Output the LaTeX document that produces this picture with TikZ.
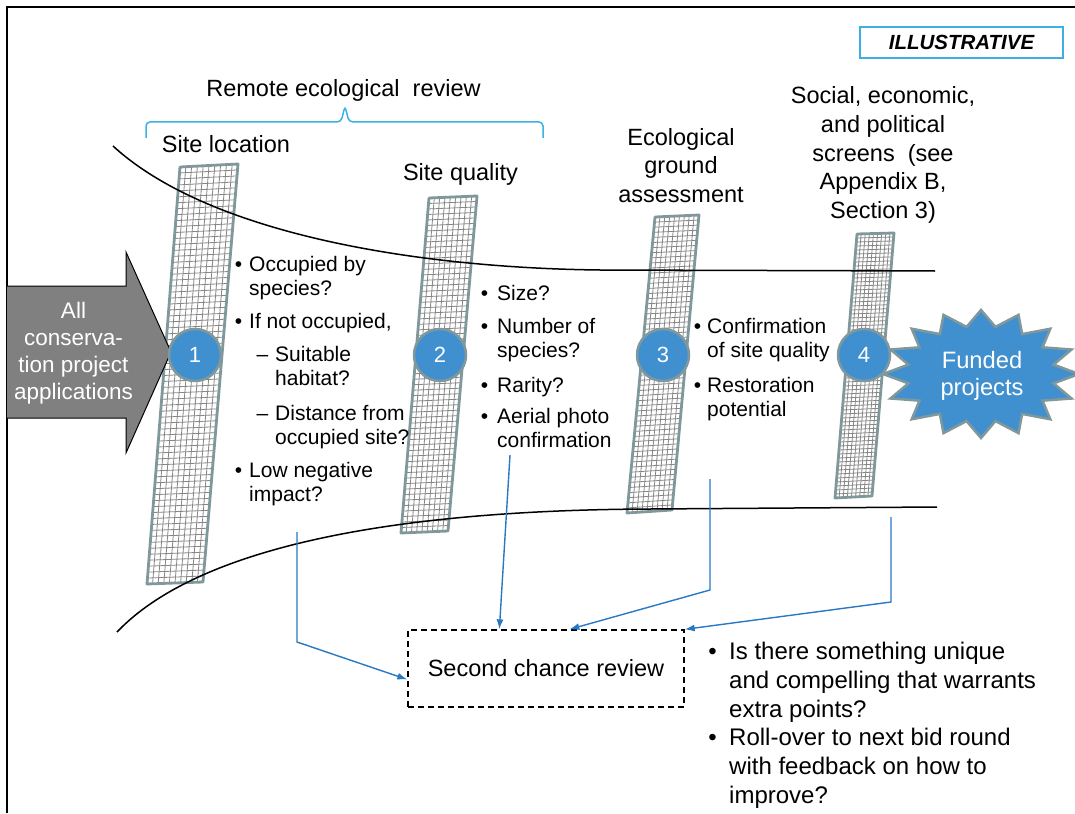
\documentclass[tikz,border=0pt]{standalone}
\usepackage{fontspec}
\setmainfont{Liberation Sans}
\usetikzlibrary{arrows.meta,calc}

\definecolor{stageblue}{RGB}{64,144,208}
\definecolor{rimgray}{RGB}{128,152,156}
\definecolor{gridgray}{RGB}{135,135,135}
\definecolor{linkblue}{RGB}{40,120,196}
\definecolor{bracecyan}{RGB}{60,176,228}
\definecolor{arrowgray}{RGB}{128,128,128}

% multi-line nodes sit on the baseline of their last line
\tikzstyle{heading}=[
	inner sep=0pt,
	align=center,
	anchor=base,
	font=\fontsize{23.5}{28.5}\selectfont
]
\tikzstyle{question}=[
	inner sep=0pt,
	align=left,
	anchor=base west,
	font=\fontsize{21}{24.5}\selectfont
]
\tikzstyle{stage}=[
	circle,
	line width=2.5pt,
	draw=rimgray,
	fill=stageblue,
	text=white,
	minimum size=52pt,
	inner sep=0pt,
	font=\fontsize{22}{26}\selectfont
]
\tikzstyle{fallback}=[
	-{Latex[length=10pt,width=7pt]},
	line width=1.4pt,
	draw=linkblue
]
\tikzstyle{recheck}=[
	rectangle,
	draw,
	line width=1.3pt,
	dash pattern=on 6pt off 4pt,
	minimum width=276pt,
	minimum height=77pt,
	font=\fontsize{23.5}{28}\selectfont
]
\tikzstyle{funnel}=[line width=1.5pt]
\tikzstyle{gridline}=[draw=gridgray, line width=0.8pt]
\tikzstyle{barrim}=[draw=rimgray, line width=2.8pt, line join=round]

\newcommand{\dotitem}[1][7pt]{\llap{\textbullet\hspace{#1}}}
\newcommand{\dashitem}{\llap{\textendash\hspace{7pt}}}

% one screen: corners top left, top right, bottom right, bottom left, columns, rows
\newcommand{\gridbar}[7]{
	\coordinate (#1-tl) at #2;
	\coordinate (#1-tr) at #3;
	\coordinate (#1-br) at #4;
	\coordinate (#1-bl) at #5;
	\fill[white] (#1-tl) -- (#1-tr) -- (#1-br) -- (#1-bl) -- cycle;
	\foreach \i in {1,...,#6}
		\draw[gridline] ($(#1-tl)!\i/#6!(#1-tr)$) -- ($(#1-bl)!\i/#6!(#1-br)$);
	\foreach \j in {1,...,#7}
		\draw[gridline] ($(#1-tl)!\j/#7!(#1-bl)$) -- ($(#1-tr)!\j/#7!(#1-br)$);
	\draw[barrim] (#1-tl) -- (#1-tr) -- (#1-br) -- (#1-bl) -- cycle;
}

\begin{document}
\begin{tikzpicture}[x=1pt,y=-1pt]
\useasboundingbox (0,0) rectangle (1075,813);
\draw[line width=2.5pt] (1075,7) -- (7,7) -- (7,813);

\node[draw=bracecyan, line width=1.5pt, minimum width=203pt, minimum height=31pt,
	font=\fontsize{20.5}{24}\selectfont\bfseries\itshape] (tag) at (961.5,42.5) {ILLUSTRATIVE};

% remote review brace
\draw[draw=bracecyan, line width=1.5pt, rounded corners=4pt]
	(146,138) -- (146,122) -- (341,122) -- (345,106) -- (349,122) -- (543,122) -- (543,138);
\node[heading] (remote) at (343.5,97) {Remote ecological\ \ review};

% the four screens
\gridbar{bar1}{(180,167)}{(238,164)}{(203,582)}{(147,584)}{10}{70}
\gridbar{bar2}{(429,198)}{(477,196)}{(448,531)}{(401,533)}{9}{61}
\gridbar{bar3}{(655,217)}{(699,215)}{(672,510)}{(627,513)}{9}{58}
\gridbar{bar4}{(857,234)}{(894,233)}{(872,496)}{(835,498)}{9}{66}

% applications arrow
\draw[fill=arrowgray, line width=1pt] (7,286) -- (126,286) -- (126,252) -- (171,352)
	-- (126,453) -- (126,418) -- (7,418);
\node[heading, text=white, font=\fontsize{22.5}{26.7}\selectfont] (apps) at (73.5,399)
	{All\\conserva-\\tion project\\applications};

% funnel
\draw[funnel] (113,146) .. controls (210,235) and (420,268) .. (600,270) -- (935,271);
\draw[funnel] (117,632) .. controls (200,545) and (400,510) .. (650,509) -- (937,507);

% funded projects
\draw[fill=stageblue, draw=rimgray, line width=2.5pt, line join=miter] (981,310)
	\foreach \k in {1,...,31} {
		-- ({981+(98-24*mod(\k,2))*cos(90+11.25*\k)}, {374-(64-16*mod(\k,2))*sin(90+11.25*\k)})
	} -- cycle;
\node[heading, text=white, font=\fontsize{23.7}{27}\selectfont] (funded) at (982,395) {Funded\\projects};

\node[stage] (s1) at (195,355) {1};
\node[stage] (s2) at (440,355) {2};
\node[stage] (s3) at (663,355) {3};
\node[stage] (s4) at (864,355) {4};

\node[heading] (loc) at (226,153) {Site location};
\node[heading] (qual) at (460.5,180) {Site quality};
\node[heading] (ground) at (681,202) {Ecological\\ground\\assessment};
\node[heading] (social) at (883,218) {Social, economic,\\and political\\screens\ \ (see\\Appendix B,\\Section 3)};

\node[question] (loc1) at (249,295.5) {\dotitem Occupied by\\species?};
\node[question] (loc2) at (249,328) {\dotitem If not occupied,};
\node[question] (loc3) at (275,385.5) {\dashitem Suitable\\habitat?};
\node[question] (loc4) at (275,444.5) {\dashitem Distance from\\occupied site?};
\node[question] (loc5) at (249,501.5) {\dotitem Low negative\\impact?};

\node[question] (qual1) at (497,300) {\dotitem[9pt]Size?};
\node[question] (qual2) at (497,357.5) {\dotitem[9pt]Number of\\species?};
\node[question] (qual3) at (497,392) {\dotitem[9pt]Rarity?};
\node[question] (qual4) at (497,447.5) {\dotitem[9pt]Aerial photo\\confirmation};

\node[question] (ground1) at (707,357.5) {\dotitem[6pt]Confirmation\\of site quality};
\node[question] (ground2) at (707,416.5) {\dotitem[6pt]Restoration\\potential};

% second chance
\node[recheck] (scr) at (546,668.5) {Second chance review};
\node[question, font=\fontsize{24}{29}\selectfont] (why1) at (729,717)
	{\dotitem[12.5pt]Is there something unique\\and compelling that warrants\\extra points?};
\node[question, font=\fontsize{24}{29}\selectfont] (why2) at (729,803)
	{\dotitem[12.5pt]Roll-over to next bid round\\with feedback on how to\\improve?};

\coordinate (drop1) at (297,532);
\coordinate (drop2) at (510,455);
\coordinate (drop3) at (710,479);
\coordinate (drop4) at (891,517);
\draw[fallback] (drop1) -- (297,642) -- ($(scr.west)+(0,11)$);
\draw[fallback] (drop2) -- ($(scr.north west)+(92,0)$);
\draw[fallback] (drop3) -- (710,590) -- ($(scr.north west)+(162,0)$);
\draw[fallback] (drop4) -- (891,602) -- (scr.north east);
\end{tikzpicture}
\end{document}
